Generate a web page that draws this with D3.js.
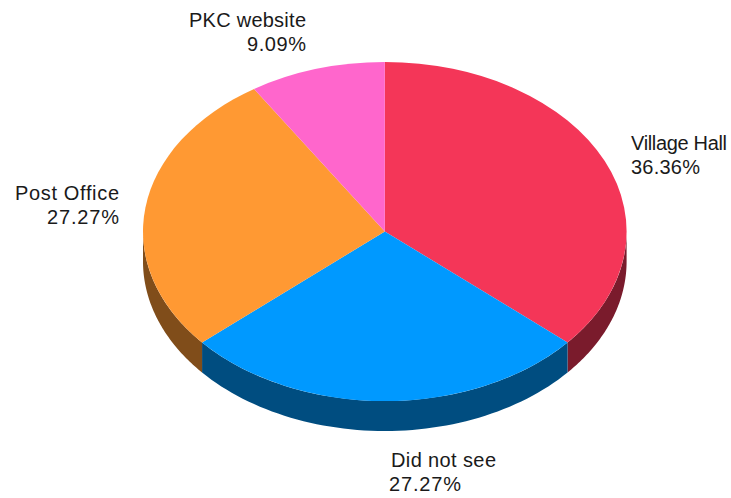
<!DOCTYPE html>
<meta charset="utf-8">
<head>
<style>
html, body { margin: 0; padding: 0; background: #fff; }
svg { display: block; }
.lbl { font-family: "Liberation Sans", Arial, sans-serif; font-size: 20px; fill: #1a1a1a; }
</style>
</head>
<body>
<div id="chart"></div>
<script src="https://d3js.org/d3.v7.min.js"></script>
<script>
var categories = ["Village Hall", "Did not see", "Post Office", "PKC website"];
var values = [4, 3, 3, 1];
var percents = ["36.36%", "27.27%", "27.27%", "9.09%"];
var colors = ["#f43658", "#0099ff", "#ff9933", "#ff66cc"];
var sideColors = ["#7a1b2c", "#004d80", "#804d1a", "#803366"];
var labelAnchors = ["start", "start", "end", "end"];

var width = 731, height = 498;
var cx = 384.8, cy = 231.5, rx = 241.8, ry = 169.5, depth = 30;

var svg = d3.select("#chart").append("svg")
  .attr("width", width)
  .attr("height", height);

var pie = d3.pie().sort(null);
var slices = pie(values);

// ellipse position for an angle measured clockwise from the top
var px = function(a) { return cx + rx * Math.sin(a); };
var py = function(a) { return cy - ry * Math.cos(a); };

// side wall: only the part of the rim that faces the viewer
slices.forEach(function(d, i) {
  var a0 = Math.max(d.startAngle, Math.PI / 2);
  var a1 = Math.min(d.endAngle, Math.PI * 3 / 2);
  if (a1 <= a0) return;
  var steps = d3.range(0, 61).map(function(k) { return a0 + (a1 - a0) * k / 60; });
  var top = steps.map(function(a) { return [px(a), py(a)]; });
  var bottom = steps.slice().reverse().map(function(a) { return [px(a), py(a) + depth]; });
  svg.append("path")
    .attr("d", d3.line()(top.concat(bottom)) + "Z")
    .attr("fill", sideColors[i]);
});

// top face, circle arcs squashed into the ellipse
var arc = d3.arc().innerRadius(0).outerRadius(rx);
svg.append("g")
  .attr("transform", "translate(" + cx + "," + cy + ") scale(1," + (ry / rx) + ")")
  .selectAll("path")
  .data(slices)
  .enter()
  .append("path")
    .attr("d", arc)
    .attr("fill", function(d, i) { return colors[i]; });

// labels, the reference text is wider than the font so fix the widths
var labelX = [631, 391, 119, 306];
var labelY = [150, 467, 200, 27];
var labelW = [96, 105, 104, 117];
var pctX = [631, 389, 119, 306];
var pctW = [69, 72, 72, 59];
categories.forEach(function(name, i) {
  svg.append("text").attr("class", "lbl")
    .attr("x", labelX[i]).attr("y", labelY[i])
    .attr("text-anchor", labelAnchors[i])
    .attr("textLength", labelW[i])
    .text(name);
  svg.append("text").attr("class", "lbl")
    .attr("x", pctX[i]).attr("y", labelY[i] + 24)
    .attr("text-anchor", labelAnchors[i])
    .attr("textLength", pctW[i])
    .text(percents[i]);
});
</script>
</body>
